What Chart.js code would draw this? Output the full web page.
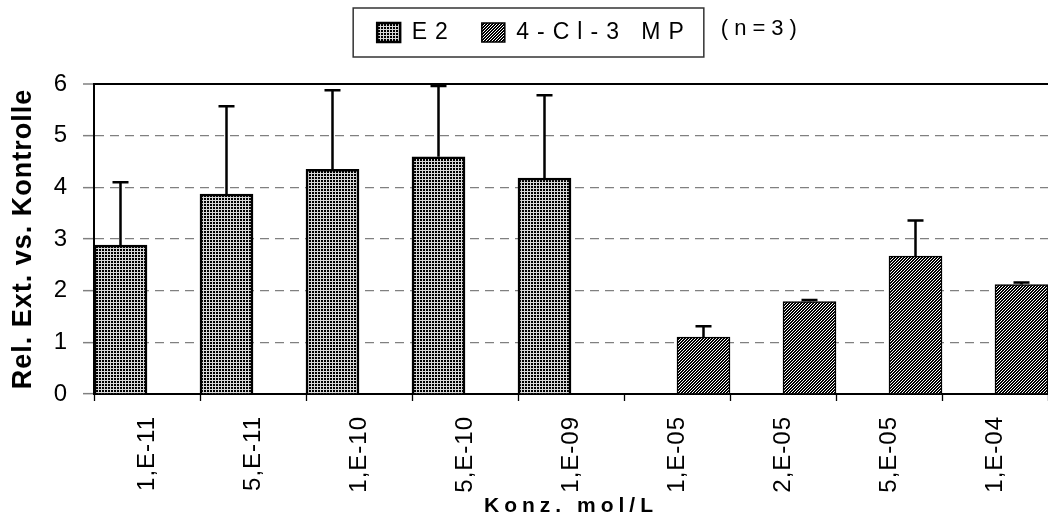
<!DOCTYPE html>
<html>
<head>
<meta charset="utf-8">
<style>
  html, body { margin: 0; padding: 0; background: #ffffff; }
  canvas { display: block; }
</style>
<script src="https://cdn.jsdelivr.net/npm/chart.js@4.4.1/dist/chart.umd.min.js"></script>
</head>
<body>
<canvas id="chart" width="1048" height="520"></canvas>
<script>
// Concentrations on the x axis
const categories = ['1,E-11', '5,E-11', '1,E-10', '5,E-10', '1,E-09', '1,E-05', '2,E-05', '5,E-05', '1,E-04'];

// Series names
const seriesNames = ['E2', '4-Cl-3 MP'];

// E2: mean relative extinction and upper error
const e2Values = [2.88, 3.87, 4.35, 4.59, 4.18, null, null, null, null];
const e2Errors = [1.22, 1.70, 1.53, 1.37, 1.60, null, null, null, null];

// 4-Cl-3 MP: mean relative extinction and upper error
const clValues = [null, null, null, null, null, 1.10, 1.79, 2.67, 2.12];
const clErrors = [null, null, null, null, null, 0.21, 0.03, 0.69, 0.04];

// Value axis ticks
const yTicks = [0, 1, 2, 3, 4, 5, 6];

const xTitle = 'Konz. mol/L';
const yTitle = 'Rel. Ext. vs. Kontrolle';
const sampleNote = '(n=3)';

const FONT = "'Liberation Sans', Arial, sans-serif";
Chart.defaults.font.family = FONT;
Chart.defaults.color = '#000';

const canvas = document.getElementById('chart');
const ctx = canvas.getContext('2d');

// Fill patterns for the bars
function gridPattern() {
  const c = document.createElement('canvas');
  c.width = 3; c.height = 3;
  const g = c.getContext('2d');
  g.fillStyle = '#000'; g.fillRect(0, 0, 3, 3);
  g.fillStyle = '#d8d8d8';
  g.fillRect(0, 2, 3, 1);
  g.fillRect(2, 0, 1, 3);
  return ctx.createPattern(c, 'repeat');
}
function hatchPattern() {
  const c = document.createElement('canvas');
  c.width = 3; c.height = 3;
  const g = c.getContext('2d');
  g.fillStyle = '#fff'; g.fillRect(0, 0, 3, 3);
  g.fillStyle = '#000';
  for (let y = 0; y < 3; y++) {
    g.fillRect((2 - y + 3) % 3, y, 1, 1);
    g.fillRect((3 - y + 3) % 3, y, 1, 1);
  }
  return ctx.createPattern(c, 'repeat');
}

// Run a drawing method with a given letter spacing
function spaced(obj, method, spacing, after) {
  const orig = obj[method];
  obj[method] = function (...args) {
    const c = this.ctx;
    const prev = c.letterSpacing;
    c.letterSpacing = spacing;
    try { return orig.apply(this, args); }
    finally { c.letterSpacing = prev; if (after) after.call(this); }
  };
}

const LEGEND_HEIGHT = 84;

const decorations = {
  id: 'decorations',
  beforeLayout(chart) {
    if (chart.$styled) return;
    chart.$styled = true;
    spaced(chart.legend, 'fit', '8px', function () { this.height = LEGEND_HEIGHT; });
    spaced(chart.legend, 'draw', '8px');
    spaced(chart.scales.x, 'drawLabels', '1px');
    spaced(chart.scales.x, 'drawTitle', '5px');
    spaced(chart.scales.y, 'drawTitle', '1px');
  },
  afterLayout(chart) {
    // nudge the legend row: slightly right of centre and up
    const lg = chart.legend;
    lg.left += 10.5;
    lg.right += 10.5;
    lg.top -= 5;
    lg.bottom -= 5;
  },
  afterDatasetsDraw(chart) {
    const c = chart.ctx;
    const yScale = chart.scales.y;
    const sets = [[0, e2Errors], [1, clErrors]];
    c.save();
    c.strokeStyle = '#000';
    c.lineWidth = 2.5;
    for (const [di, errs] of sets) {
      const meta = chart.getDatasetMeta(di);
      const vals = chart.data.datasets[di].data;
      meta.data.forEach((bar, i) => {
        if (vals[i] == null || errs[i] == null) return;
        const top = yScale.getPixelForValue(vals[i] + errs[i]);
        c.beginPath();
        c.moveTo(bar.x, bar.y);
        c.lineTo(bar.x, top);
        c.moveTo(bar.x - 8, top);
        c.lineTo(bar.x + 8, top);
        c.stroke();
      });
    }
    c.restore();
  },
  afterDraw(chart) {
    const c = chart.ctx;
    const hb = chart.legend.legendHitBoxes;
    if (!hb || !hb.length) return;
    const first = hb[0], last = hb[hb.length - 1];
    const left = first.left - 24;
    const right = last.left + last.width + 12;
    const top = first.top - 13;
    const bottom = first.top + first.height + 13;
    c.save();
    c.strokeStyle = '#333';
    c.lineWidth = 1.5;
    c.strokeRect(left, top, right - left, bottom - top);
    c.fillStyle = '#000';
    c.font = '22px ' + FONT;
    c.letterSpacing = '6px';
    c.textBaseline = 'middle';
    c.textAlign = 'left';
    c.fillText(sampleNote, right + 17, first.top + first.height / 2 - 4);
    c.restore();
  }
};

new Chart(ctx, {
  type: 'bar',
  data: {
    labels: categories,
    datasets: [
      {
        label: seriesNames[0],
        data: e2Values,
        backgroundColor: gridPattern(),
        borderColor: '#000',
        borderWidth: 2.5,
        categoryPercentage: 1,
        barPercentage: 1
      },
      {
        label: seriesNames[1],
        data: clValues,
        backgroundColor: hatchPattern(),
        borderColor: '#000',
        borderWidth: 1.5,
        categoryPercentage: 1,
        barPercentage: 1
      }
    ]
  },
  options: {
    responsive: false,
    animation: false,
    devicePixelRatio: 1,
    layout: { padding: { left: 0, right: 0, top: 0, bottom: 0 } },
    plugins: {
      tooltip: { enabled: false },
      legend: {
        position: 'top',
        align: 'center',
        labels: {
          font: { family: FONT, size: 23 },
          color: '#000',
          boxWidth: 23,
          boxHeight: 19,
          padding: 26
        }
      }
    },
    scales: {
      x: {
        offset: true,
        grid: {
          display: true,
          offset: true,
          drawOnChartArea: false,
          drawTicks: true,
          tickLength: 7,
          tickColor: '#000',
          tickWidth: 1.3
        },
        border: { display: true, color: '#000', width: 2 },
        ticks: {
          autoSkip: false,
          minRotation: 90,
          maxRotation: 90,
          font: { family: FONT, size: 24 },
          color: '#000',
          padding: 15
        },
        title: {
          display: true,
          text: xTitle,
          font: { family: FONT, size: 21, weight: 'bold' },
          color: '#000',
          padding: { top: 0, bottom: 1 }
        },
        afterFit(scale) { scale.height = 126; }
      },
      y: {
        min: 0,
        max: 6,
        afterBuildTicks(scale) { scale.ticks = yTicks.map(v => ({ value: v })); },
        ticks: {
          font: { family: FONT, size: 24 },
          color: '#000',
          padding: 16
        },
        grid: {
          color: c => (c.tick && c.tick.value === 6) ? '#000' : (c.tick && c.tick.value === 0 ? 'rgba(0,0,0,0)' : '#808080'),
          lineWidth: c => (c.tick && c.tick.value === 6) ? 2 : 1.3,
          tickColor: '#808080',
          tickLength: 11,
          tickWidth: 1.5,
          drawTicks: true
        },
        border: {
          display: true,
          color: '#000',
          width: 2,
          dash: c => (c.tick && c.tick.value === 6) ? [] : [9, 6]
        },
        title: {
          display: true,
          text: yTitle,
          font: { family: FONT, size: 27, weight: 'bold' },
          color: '#000',
          padding: { top: 7, bottom: 0 }
        },
        afterFit(scale) { scale.width = 94; }
      }
    }
  },
  plugins: [decorations]
});
</script>
</body>
</html>
